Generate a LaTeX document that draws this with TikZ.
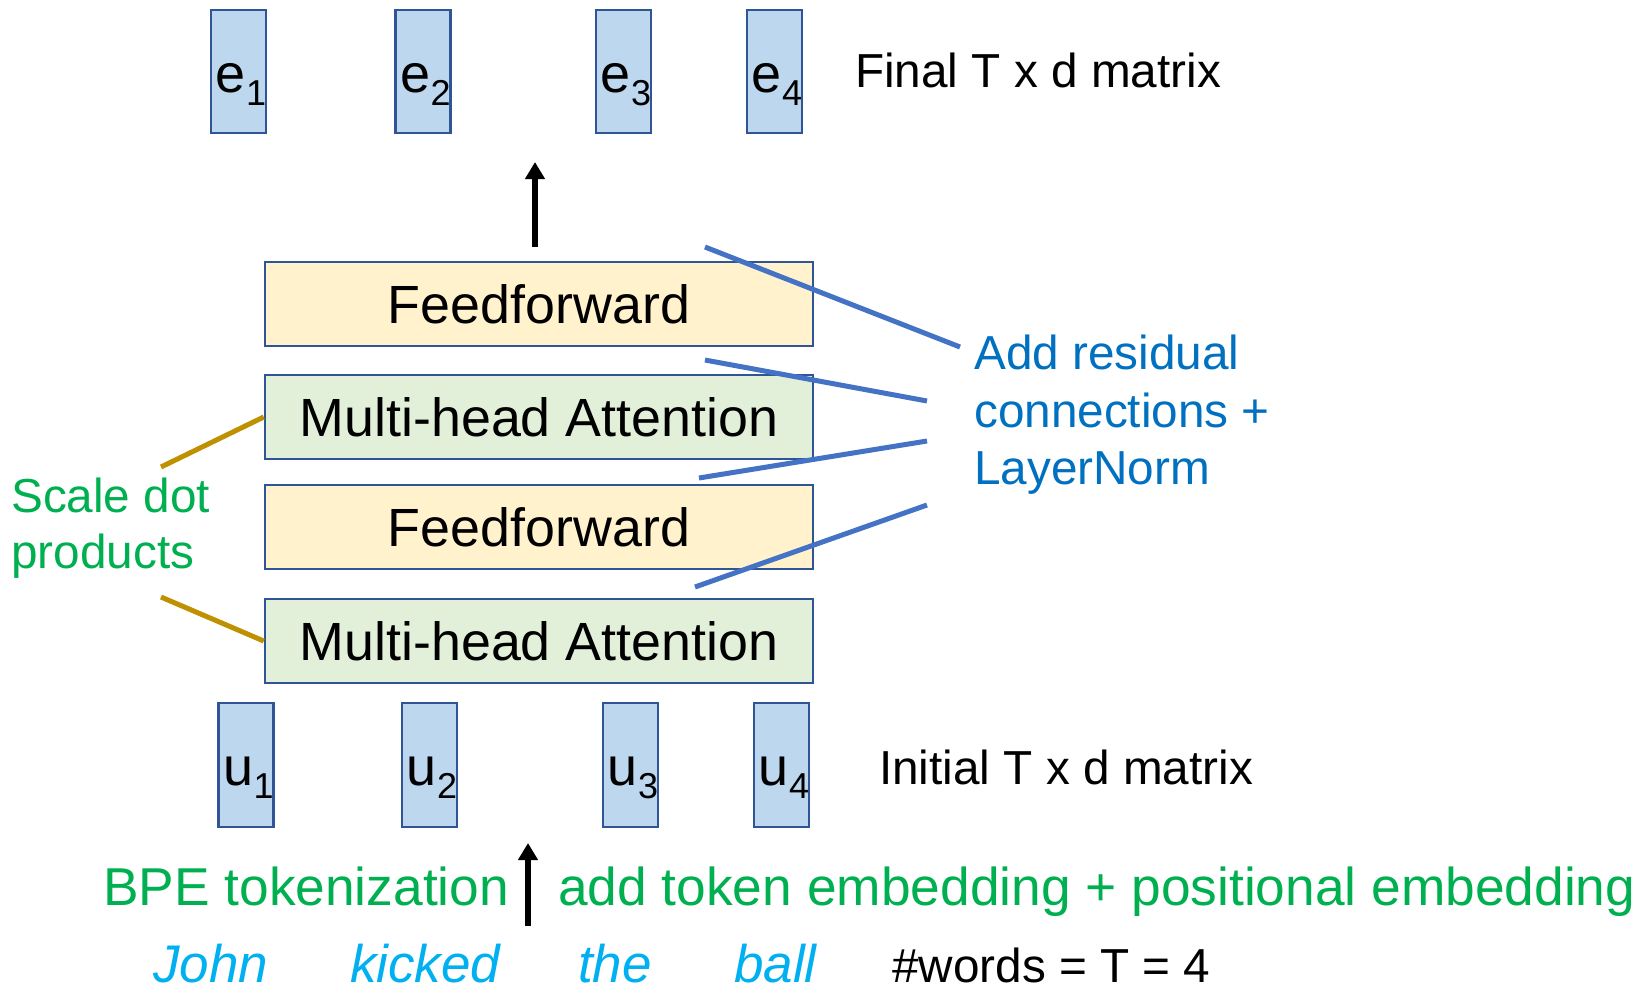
\documentclass[tikz,border=0pt]{standalone}
\usepackage{fontspec}
\setmainfont{Liberation Sans}
\usetikzlibrary{arrows.meta}
\definecolor{vecfill}{HTML}{BDD7EE}
\definecolor{boxline}{HTML}{2F5597}
\definecolor{fffill}{HTML}{FFF2CC}
\definecolor{mhafill}{HTML}{E2F0D9}
\definecolor{resblue}{HTML}{4472C4}
\definecolor{gold}{HTML}{BF9000}
\definecolor{tgreen}{HTML}{00B050}
\definecolor{tblue}{HTML}{0070C0}
\definecolor{wordblue}{HTML}{00B0F0}
\newcommand{\vsub}[1]{\raisebox{-13pt}{\fontsize{36}{36}\selectfont #1}}
\tikzset{
  vec/.style={draw=boxline, line width=2.5pt, fill=vecfill, minimum width=55pt, minimum height=123pt, inner sep=0pt},
  vectext/.style={anchor=base, inner sep=0pt, font=\fontsize{54}{54}\selectfont},
  layerbox/.style={draw=boxline, line width=2.5pt, minimum width=548pt, minimum height=84pt, inner sep=0pt, font=\fontsize{53.8}{53.8}\selectfont},
  ffbox/.style={layerbox, fill=fffill},
  mhabox/.style={layerbox, fill=mhafill},
  lbl/.style={anchor=base west, inner sep=0pt, font=\fontsize{47.7}{47.7}\selectfont},
  biglbl/.style={anchor=base west, inner sep=0pt, font=\fontsize{53.3}{53.3}\selectfont},
  wordlbl/.style={anchor=base west, inner sep=0pt, text=wordblue, font=\fontsize{53}{53}\selectfont\itshape},
  resline/.style={draw=resblue, line width=5pt},
  goldline/.style={draw=gold, line width=5pt},
  uparrow/.style={line width=6pt, -{Triangle[width=19pt,length=17pt]}}
}
\begin{document}
\begin{tikzpicture}[x=1pt,y=-1pt]
\useasboundingbox (0,0) rectangle (1644,989);
% output vectors
\node[vec] (e1) at (238.5,71.5) {};
\node[vec] (e2) at (423,71.5) {};
\node[vec] (e3) at (623.5,71.5) {};
\node[vec] (e4) at (774.5,71.5) {};
\node[vectext] (e1t) at (241,92) {e\vsub{1}};
\node[vectext] (e2t) at (425.5,92) {e\vsub{2}};
\node[vectext] (e3t) at (626,92) {e\vsub{3}};
\node[vectext] (e4t) at (777,92) {e\vsub{4}};
\node[lbl] (final) at (855,87) {Final T x d matrix};
% arrow up
\coordinate (a1s) at (535,247);
\coordinate (a1e) at (535,162);
\draw[uparrow] (a1s) -- (a1e);
% layers
\node[ffbox] (ff2) at (539,304) {Feedforward};
\node[mhabox] (mha2) at (539,417) {Multi-head Attention};
\node[ffbox] (ff1) at (539,527) {Feedforward};
\node[mhabox] (mha1) at (539,641) {Multi-head Attention};
% residual lines
\coordinate (r1a) at (705,247); \coordinate (r1b) at (960,347);
\coordinate (r2a) at (705,360); \coordinate (r2b) at (927,401);
\coordinate (r3a) at (699,478); \coordinate (r3b) at (927,441);
\coordinate (r4a) at (695,587); \coordinate (r4b) at (927,505);
\draw[resline] (r1a) -- (r1b);
\draw[resline] (r2a) -- (r2b);
\draw[resline] (r3a) -- (r3b);
\draw[resline] (r4a) -- (r4b);
\node[lbl, text=tblue] (res1) at (974,369) {Add residual};
\node[lbl, text=tblue] (res2) at (974,427) {connections +};
\node[lbl, text=tblue] (res3) at (974,484) {LayerNorm};
% scale dot products
\coordinate (g1) at (161,467);
\coordinate (g2) at (161,597);
\draw[goldline] (g1) -- (mha2.west);
\draw[goldline] (g2) -- (mha1.west);
\node[lbl, text=tgreen] (sd1) at (11,512) {Scale dot};
\node[lbl, text=tgreen] (sd2) at (11,568) {products};
% input vectors
\node[vec, minimum height=124pt] (u1) at (246,765) {};
\node[vec, minimum height=124pt] (u2) at (429.5,765) {};
\node[vec, minimum height=124pt] (u3) at (630.5,765) {};
\node[vec, minimum height=124pt] (u4) at (781.5,765) {};
\node[vectext] (u1t) at (248.5,785) {u\vsub{1}};
\node[vectext] (u2t) at (432,785) {u\vsub{2}};
\node[vectext] (u3t) at (633,785) {u\vsub{3}};
\node[vectext] (u4t) at (784,785) {u\vsub{4}};
\node[lbl] (initial) at (879,784) {Initial T x d matrix};
% embedding step
\coordinate (a2s) at (528,926);
\coordinate (a2e) at (528,843);
\draw[uparrow] (a2s) -- (a2e);
\node[biglbl, text=tgreen] (bpe) at (103,905) {BPE tokenization};
\node[biglbl, text=tgreen] (emb) at (558,905) {add token embedding + positional embedding};
% words
\node[wordlbl] (w1) at (153,982) {John};
\node[wordlbl] (w2) at (350,982) {kicked};
\node[wordlbl] (w3) at (578,982) {the};
\node[wordlbl] (w4) at (734,982) {ball};
\node[lbl] (nwords) at (892,982) {\#words = T = 4};
\end{tikzpicture}
\end{document}
